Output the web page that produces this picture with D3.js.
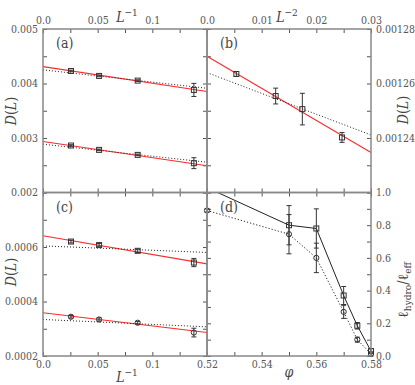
<!DOCTYPE html>
<html>
<head>
<meta charset="utf-8">
<script src="https://cdn.jsdelivr.net/npm/d3@7"></script>
<style>
  body { margin: 0; background: #fff; }
  svg text { font-stretch: condensed; }
</style>
</head>
<body>
<svg id="chart" width="415" height="385"></svg>
<script>
// ---- data ----
const invL = [0.0256, 0.0513, 0.0866, 0.138];          // L^-1 of the four system sizes
const aUpper = [0.00423, 0.004139, 0.004053, 0.003882];
const aUpperErr = [0.000015, 0.000015, 0.000015, 0.00012];
const aLower = [0.002862, 0.002782, 0.00269, 0.002538];
const aLowerErr = [0.000015, 0.000015, 0.000015, 0.0001];
const fitX = [0, 0.15];
const aUpperRed = [0.00431, 0.003852];
const aUpperDot = [0.00425, 0.003913];
const aLowerRed = [0.002935, 0.00249];
const aLowerDot = [0.002886, 0.002556];

const invL2 = [0.00537, 0.01256, 0.01744, 0.0247];
const bVal = [0.0012635, 0.0012554, 0.0012506, 0.0012402];
const bErr = [0.0000009, 0.0000029, 0.0000058, 0.0000018];
const fitX2 = [0, 0.03];
const bRed = [0.00127, 0.0012347];
const bDot = [0.001264, 0.0012411];

const cUpper = [0.00062, 0.000607, 0.000586, 0.000543];
const cUpperErr = [0.000005, 0.000006, 0.000006, 0.000015];
const cLower = [0.000344, 0.000334, 0.000322, 0.000286];
const cLowerErr = [0.000005, 0.000006, 0.000005, 0.000016];
const cUpperRed = [0.000641, 0.000538];
const cUpperDot = [0.000604, 0.00058];
const cLowerRed = [0.000359, 0.000286];
const cLowerDot = [0.000334, 0.000307];

const phi = [0.52, 0.55, 0.56, 0.57, 0.575, 0.58];
const dSquare = [1.03, 0.80, 0.78, 0.37, 0.185, 0.03];
const dSquareErr = [0.02, 0.12, 0.12, 0.055, 0.02, 0.015];
const dCircle = [0.89, 0.745, 0.60, 0.27, 0.10, 0.012];
const dCircleErr = [0.01, 0.12, 0.09, 0.04, 0.015, 0.012];

// tick values and labels
const xTicksL = [0, 0.025, 0.05, 0.075, 0.1, 0.125, 0.15];
const xLabelsL = {0: "0.0", 0.05: "0.05", 0.1: "0.1"};
const xTicksL2 = [0, 0.005, 0.01, 0.015, 0.02, 0.025, 0.03];
const xLabelsL2 = {0: "0.0", 0.01: "0.01", 0.02: "0.02", 0.03: "0.03"};
const yTicksA = [0.002, 0.0025, 0.003, 0.0035, 0.004, 0.0045, 0.005];
const yLabelsA = {0.002: "0.002", 0.003: "0.003", 0.004: "0.004", 0.005: "0.005"};
const yTicksB = [0.00122, 0.00123, 0.00124, 0.00125, 0.00126, 0.00127, 0.00128];
const yLabelsB = {0.00124: "0.00124", 0.00126: "0.00126", 0.00128: "0.00128"};
const yTicksC = [0.0002, 0.0003, 0.0004, 0.0005, 0.0006, 0.0007, 0.0008];
const yLabelsC = {0.0002: "0.0002", 0.0004: "0.0004", 0.0006: "0.0006"};
const xTicksD = [0.52, 0.53, 0.54, 0.55, 0.56, 0.57, 0.58];
const xLabelsD = {0.52: "0.52", 0.54: "0.54", 0.56: "0.56", 0.58: "0.58"};
const yTicksD = [0, 0.1, 0.2, 0.3, 0.4, 0.5, 0.6, 0.7, 0.8, 0.9, 1.0];
const yLabelsD = {0: "0.0", 0.2: "0.2", 0.4: "0.4", 0.6: "0.6", 0.8: "0.8", 1: "1.0"};

// ---- layout ----
const L = 43, M = 207, R = 371, T = 29, MY = 192.5, B = 356;
const SERIF = "DejaVu Serif";
const svg = d3.select("#chart");

function fmt(labels) {
  return d => {
    for (const k in labels) if (Math.abs(+k - d) < 1e-9) return labels[k];
    return "";
  };
}

function panel(id, x0, x1, y0, y1, xs, ys, opts) {
  const g = svg.append("g");
  const ax = (gen, tx, ty, labels, ticks) => {
    const a = g.append("g").attr("transform", `translate(${tx},${ty})`)
      .call(gen.tickValues(ticks).tickSize(-4).tickPadding(5).tickFormat(labels ? fmt(labels) : () => ""));
    a.attr("font-family", SERIF).attr("font-size", 10.5);
    a.select(".domain").remove();
    a.selectAll(".tick line").attr("stroke", "#555");
    a.selectAll(".tick text").attr("fill", "#555");
    return a;
  };
  ax(d3.axisTop(xs), 0, y0, opts.top, opts.xTicks);
  ax(d3.axisBottom(xs), 0, y1, opts.bottom, opts.xTicks);
  ax(d3.axisLeft(ys), x0, 0, opts.left, opts.yTicks);
  ax(d3.axisRight(ys), x1, 0, opts.right, opts.yTicks);

  svg.append("clipPath").attr("id", "clip" + id)
    .append("rect").attr("x", x0 - 4).attr("y", y0).attr("width", x1 - x0 + 8).attr("height", y1 - y0 + 4);
  const inner = svg.append("g").attr("clip-path", `url(#clip${id})`);
  return inner;
}

function fitLine(g, xs, ys, xv, yv, style) {
  const line = d3.line().x((d, i) => xs(xv[i])).y(d => ys(d));
  const p = g.append("path").datum(yv).attr("d", line).attr("fill", "none");
  if (style === "red") p.attr("stroke", "#ff2a2a").attr("stroke-width", 1.1);
  else p.attr("stroke", "#222").attr("stroke-width", 1).attr("stroke-dasharray", "1,2");
}

function points(g, xs, ys, xv, yv, ev, shape) {
  xv.forEach((xx, i) => {
    const px = xs(xx), py = ys(yv[i]);
    const top = ys(yv[i] + ev[i]), bot = ys(yv[i] - ev[i]);
    g.append("line").attr("x1", px).attr("x2", px).attr("y1", top).attr("y2", bot)
      .attr("stroke", "#333").attr("stroke-width", 1);
    [top, bot].forEach(yy => g.append("line").attr("x1", px - 2.5).attr("x2", px + 2.5)
      .attr("y1", yy).attr("y2", yy).attr("stroke", "#333").attr("stroke-width", 1));
    if (shape === "square") {
      g.append("rect").attr("x", px - 2.5).attr("y", py - 2.5).attr("width", 5).attr("height", 5)
        .attr("fill", "none").attr("stroke", "#333").attr("stroke-width", 1);
    } else {
      g.append("circle").attr("cx", px).attr("cy", py).attr("r", 2.6)
        .attr("fill", "none").attr("stroke", "#333").attr("stroke-width", 1);
    }
  });
}

// panel (a)
const xa = d3.scaleLinear().domain([0, 0.15]).range([L, M]);
const ya = d3.scaleLinear().domain([0.002, 0.005]).range([MY, T]);
const ga = panel("a", L, M, T, MY, xa, ya,
  {xTicks: xTicksL, yTicks: yTicksA, top: xLabelsL, left: yLabelsA});
fitLine(ga, xa, ya, fitX, aUpperRed, "red");
fitLine(ga, xa, ya, fitX, aUpperDot, "dot");
fitLine(ga, xa, ya, fitX, aLowerRed, "red");
fitLine(ga, xa, ya, fitX, aLowerDot, "dot");
points(ga, xa, ya, invL, aUpper, aUpperErr, "square");
points(ga, xa, ya, invL, aLower, aLowerErr, "square");

// panel (b)
const xb = d3.scaleLinear().domain([0, 0.03]).range([M, R]);
const yb = d3.scaleLinear().domain([0.00122, 0.00128]).range([MY, T]);
const gb = panel("b", M, R, T, MY, xb, yb,
  {xTicks: xTicksL2, yTicks: yTicksB, top: xLabelsL2, right: yLabelsB});
fitLine(gb, xb, yb, fitX2, bRed, "red");
fitLine(gb, xb, yb, fitX2, bDot, "dot");
points(gb, xb, yb, invL2, bVal, bErr, "square");

// panel (c)
const xc = d3.scaleLinear().domain([0, 0.15]).range([L, M]);
const yc = d3.scaleLinear().domain([0.0002, 0.0008]).range([B, MY]);
const gc = panel("c", L, M, MY, B, xc, yc,
  {xTicks: xTicksL, yTicks: yTicksC, bottom: xLabelsL, left: yLabelsC});
fitLine(gc, xc, yc, fitX, cUpperRed, "red");
fitLine(gc, xc, yc, fitX, cUpperDot, "dot");
fitLine(gc, xc, yc, fitX, cLowerRed, "red");
fitLine(gc, xc, yc, fitX, cLowerDot, "dot");
points(gc, xc, yc, invL, cUpper, cUpperErr, "square");
points(gc, xc, yc, invL, cLower, cLowerErr, "circle");

// panel (d)
const xd = d3.scaleLinear().domain([0.52, 0.58]).range([M, R]);
const yd = d3.scaleLinear().domain([0, 1]).range([B, MY]);
const gd = panel("d", M, R, MY, B, xd, yd,
  {xTicks: xTicksD, yTicks: yTicksD, bottom: xLabelsD, right: yLabelsD});
gd.append("path").datum(dSquare)
  .attr("d", d3.line().x((d, i) => xd(phi[i])).y(d => yd(d)))
  .attr("fill", "none").attr("stroke", "#222").attr("stroke-width", 1);
gd.append("path").datum(dCircle)
  .attr("d", d3.line().x((d, i) => xd(phi[i])).y(d => yd(d)))
  .attr("fill", "none").attr("stroke", "#222").attr("stroke-width", 1).attr("stroke-dasharray", "1.2,2");
points(gd, xd, yd, phi, dSquare, dSquareErr, "square");
points(gd, xd, yd, phi, dCircle, dCircleErr, "circle");

// frames
[[L, T, M, MY], [M, T, R, MY], [L, MY, M, B], [M, MY, R, B]].forEach(f => {
  svg.append("rect").attr("x", f[0]).attr("y", f[1]).attr("width", f[2] - f[0]).attr("height", f[3] - f[1])
    .attr("fill", "none").attr("stroke", "#888").attr("stroke-width", 1.5);
});

function txt(sel) {
  return sel.attr("font-family", SERIF).attr("fill", "#444");
}

// panel letters
[["(a)", L, T], ["(b)", M, T], ["(c)", L, MY], ["(d)", M, MY]].forEach(p => {
  txt(svg.append("text")).attr("x", p[1] + 13).attr("y", p[2] + 19)
    .attr("font-size", 14).text(p[0]);
});

// axis titles
function invTitle(x, y, pow) {
  const t = txt(svg.append("text")).attr("x", x).attr("y", y).attr("text-anchor", "middle");
  t.append("tspan").attr("font-style", "italic").attr("font-size", 14).text("L");
  t.append("tspan").attr("dy", -6).attr("font-size", 10).text("\u2212" + pow);
}
invTitle(127, 22, "1");
invTitle(287, 22, "2");
invTitle(127, 382, "1");
txt(svg.append("text")).attr("x", 289).attr("y", 377).attr("text-anchor", "middle")
  .attr("font-style", "italic").attr("font-size", 14).text("\u03c6");

function dTitle(x, y) {
  const t = txt(svg.append("text")).attr("transform", `translate(${x},${y}) rotate(-90)`)
    .attr("text-anchor", "middle").attr("font-size", 14);
  t.append("tspan").attr("font-style", "italic").text("D");
  t.append("tspan").text("(");
  t.append("tspan").attr("font-style", "italic").text("L");
  t.append("tspan").text(")");
}
dTitle(16, 111);
dTitle(16, 272);
dTitle(408, 110);

const lt = txt(svg.append("text")).attr("transform", "translate(408,290) rotate(-90)")
  .attr("text-anchor", "middle").attr("font-size", 14);
lt.append("tspan").attr("font-size", 14).text("\u2113");
lt.append("tspan").attr("dy", 3).attr("font-size", 10).text("hydro");
lt.append("tspan").attr("dy", -3).text("/");
lt.append("tspan").attr("font-size", 14).text("\u2113");
lt.append("tspan").attr("dy", 3).attr("font-size", 10).text("eff");
</script>
</body>
</html>
